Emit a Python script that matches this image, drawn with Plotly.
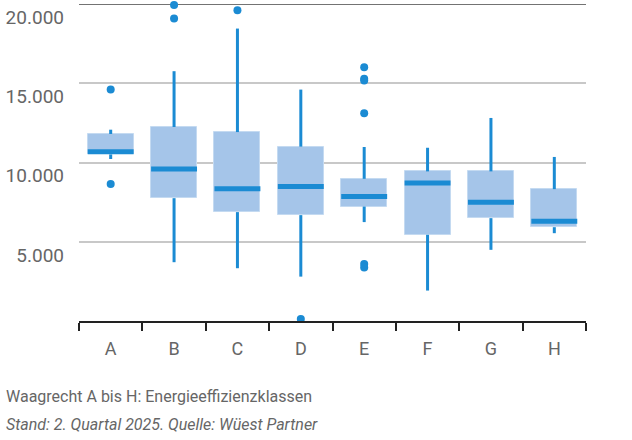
import plotly.graph_objects as go

categories = ["A", "B", "C", "D", "E", "F", "G", "H"]
q1 = [10510, 7750, 6870, 6680, 7220, 5440, 6490, 5920]
median = [10680, 9590, 8340, 8490, 7860, 8700, 7500, 6300]
q3 = [11800, 12240, 11920, 11000, 8970, 9440, 9440, 8320]
lower_fence = [10220, 3710, 3330, 2800, 6240, 1920, 4490, 5540]
upper_fence = [12070, 15760, 18450, 14600, 10980, 10930, 12810, 10350]
outlier_cat = ["A", "A", "B", "B", "C", "D", "E", "E", "E", "E", "E", "E"]
outlier_val = [14600, 8640, 19930, 19090, 19610, 130, 16010, 15290, 15170, 13100, 3600, 3380]

y_ticks = [5000, 10000, 15000, 20000]
y_ticktext = ["5.000", "10.000", "15.000", "20.000"]

DARK = "#1b8bd3"
LIGHT = "#a5c5e9"
FONT = "Roboto"

fig = go.Figure()

# boxes (interquartile range)
fig.add_trace(go.Bar(
    x=categories,
    y=[b - a for a, b in zip(q1, q3)],
    base=q1,
    width=0.725,
    marker=dict(color=LIGHT, line=dict(color="#c4daf1", width=1)),
    hoverinfo="skip",
))

# whiskers
wx, wy = [], []
for c, lo, a, b, hi in zip(categories, lower_fence, q1, q3, upper_fence):
    wx += [c, c, None, c, c, None]
    wy += [lo, a, None, b, hi, None]
fig.add_trace(go.Scatter(
    x=wx, y=wy, mode="lines",
    line=dict(color=DARK, width=3),
    hoverinfo="skip", cliponaxis=False,
))

# medians
fig.add_trace(go.Scatter(
    x=categories, y=median, mode="markers",
    marker=dict(symbol="line-ew", size=32.8, color=DARK,
                line=dict(color=DARK, width=5)),
    cliponaxis=False,
))

# outliers
fig.add_trace(go.Scatter(
    x=outlier_cat, y=outlier_val, mode="markers",
    marker=dict(symbol="circle", size=8, color=DARK),
    cliponaxis=False,
))

fig.add_shape(type="line", xref="paper", x0=0, x1=1,
              y0=y_ticks[-1], y1=y_ticks[-1],
              line=dict(color="#444444", width=1.5), layer="below")

fig.update_layout(
    width=632, height=440,
    margin=dict(l=79, r=46, t=4, b=119),
    paper_bgcolor="white", plot_bgcolor="white",
    showlegend=False,
    font=dict(family=FONT, color="#666666", size=19),
    bargap=0,
    xaxis=dict(
        type="category",
        categoryorder="array", categoryarray=categories,
        range=[-0.5, len(categories) - 0.5],
        tickson="boundaries",
        ticks="outside", ticklen=8, tickwidth=2, tickcolor="#222222",
        showline=True, linecolor="#222222", linewidth=2,
        showgrid=False,
        tickfont=dict(family=FONT, size=18, color="#666666"),
        ticklabelstandoff=10,
    ),
    yaxis=dict(
        range=[0, 20000],
        tickvals=y_ticks, ticktext=y_ticktext,
        showgrid=True, gridcolor="#c8c8c8", gridwidth=1.5,
        zeroline=False, showline=False, ticks="",
        ticklabelposition="outside bottom",
        ticklabelstandoff=14,
        tickfont=dict(family=FONT, size=19, color="#666666"),
    ),
    annotations=[
        dict(text="Waagrecht A bis H: Energieeffizienzklassen",
             xref="paper", yref="paper", x=-0.148, y=-0.238,
             xanchor="left", yanchor="middle", showarrow=False,
             font=dict(family=FONT, size=16, color="#666666")),
        dict(text="<i>Stand: 2. Quartal 2025. Quelle: Wüest Partner</i>",
             xref="paper", yref="paper", x=-0.148, y=-0.328,
             xanchor="left", yanchor="middle", showarrow=False,
             font=dict(family=FONT, size=16, color="#666666")),
    ],
)

fig.write_html("out.html")
